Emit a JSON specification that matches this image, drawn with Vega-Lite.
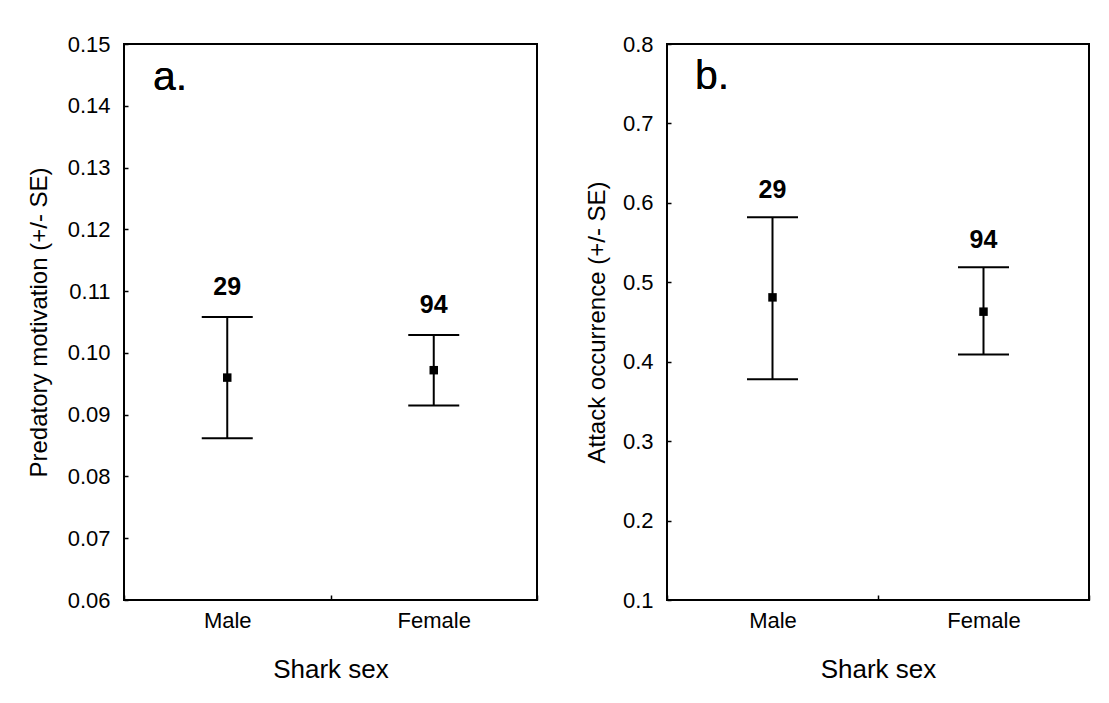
{
  "$schema": "https://vega.github.io/schema/vega-lite/v6.json",
  "background": "white",
  "padding": {"left": 26, "top": 32, "right": 21, "bottom": 10},
  "spacing": 45,
  "config": {
    "font": "Liberation Sans",
    "view": {"stroke": "black", "strokeWidth": 2},
    "axis": {"grid": false, "domain": false, "ticks": true, "tickColor": "black", "tickWidth": 1.5, "labelColor": "black", "titleColor": "black", "labelFont": "Liberation Sans", "titleFont": "Liberation Sans", "labelFontSize": 22, "titleFontSize": 26, "titleFontWeight": "normal"},
    "axisY": {"titleFontSize": 24}
  },
  "hconcat": [
    {
      "width": 413,
      "height": 556,
      "data": {"values": [
        {"sex": "Male", "mean": 0.0960, "lo": 0.0862, "hi": 0.1058, "n": "29"},
        {"sex": "Female", "mean": 0.0972, "lo": 0.0915, "hi": 0.1029, "n": "94"}
      ]},
      "encoding": {
        "x": {"field": "sex", "type": "nominal", "sort": ["Male", "Female"], "scale": {"type": "band", "paddingInner": 0, "paddingOuter": 0},
              "axis": {"title": "Shark sex", "labelAngle": 0, "tickBand": "extent", "tickSize": -5, "labelPadding": 15, "minExtent": 32, "maxExtent": 32, "titlePadding": 24.5}}
      },
      "layer": [
        {"mark": {"type": "rule", "color": "black", "strokeWidth": 2},
         "encoding": {"y": {"field": "lo", "type": "quantitative", "title": "Predatory motivation (+/- SE)", "scale": {"domain": [0.06, 0.15], "nice": false, "zero": false},
                            "axis": {"values": [0.06, 0.07, 0.08, 0.09, 0.1, 0.11, 0.12, 0.13, 0.14, 0.15], "format": ".2f", "tickSize": -4, "labelPadding": 18, "minExtent": 60, "maxExtent": 60, "titlePadding": 13}},
                      "y2": {"field": "hi"}}},
        {"mark": {"type": "tick", "color": "black", "size": 51, "thickness": 2, "opacity": 1},
         "encoding": {"y": {"field": "lo", "type": "quantitative", "title": "Predatory motivation (+/- SE)"}}},
        {"mark": {"type": "tick", "color": "black", "size": 51, "thickness": 2, "opacity": 1},
         "encoding": {"y": {"field": "hi", "type": "quantitative", "title": "Predatory motivation (+/- SE)"}}},
        {"mark": {"type": "square", "color": "black", "filled": true, "size": 72, "opacity": 1},
         "encoding": {"y": {"field": "mean", "type": "quantitative", "title": "Predatory motivation (+/- SE)"}}},
        {"mark": {"type": "text", "color": "black", "fontSize": 25, "fontWeight": "bold", "baseline": "middle", "dy": -30},
         "encoding": {"y": {"field": "hi", "type": "quantitative", "title": "Predatory motivation (+/- SE)"}, "text": {"field": "n"}}},
        {"mark": {"type": "text", "color": "black", "fontSize": 41, "align": "left", "baseline": "alphabetic", "dx": 29, "dy": 46, "text": "a."},
         "encoding": {"x": {"datum": "Male", "type": "nominal", "bandPosition": 0}, "y": {"datum": 0.15, "type": "quantitative", "title": "Predatory motivation (+/- SE)"}}}
      ]
    },
    {
      "width": 422,
      "height": 556,
      "data": {"values": [
        {"sex": "Male", "mean": 0.481, "lo": 0.378, "hi": 0.582, "n": "29"},
        {"sex": "Female", "mean": 0.463, "lo": 0.409, "hi": 0.519, "n": "94"}
      ]},
      "encoding": {
        "x": {"field": "sex", "type": "nominal", "sort": ["Male", "Female"], "scale": {"type": "band", "paddingInner": 0, "paddingOuter": 0},
              "axis": {"title": "Shark sex", "labelAngle": 0, "tickBand": "extent", "tickSize": -5, "labelPadding": 15, "minExtent": 32, "maxExtent": 32, "titlePadding": 24.5}}
      },
      "layer": [
        {"mark": {"type": "rule", "color": "black", "strokeWidth": 2},
         "encoding": {"y": {"field": "lo", "type": "quantitative", "title": "Attack occurrence (+/- SE)", "scale": {"domain": [0.1, 0.8], "nice": false, "zero": false},
                            "axis": {"values": [0.1, 0.2, 0.3, 0.4, 0.5, 0.6, 0.7, 0.8], "format": ".1f", "tickSize": -4, "labelPadding": 18, "minExtent": 46, "maxExtent": 46, "titlePadding": 12}},
                      "y2": {"field": "hi"}}},
        {"mark": {"type": "tick", "color": "black", "size": 51, "thickness": 2, "opacity": 1},
         "encoding": {"y": {"field": "lo", "type": "quantitative", "title": "Attack occurrence (+/- SE)"}}},
        {"mark": {"type": "tick", "color": "black", "size": 51, "thickness": 2, "opacity": 1},
         "encoding": {"y": {"field": "hi", "type": "quantitative", "title": "Attack occurrence (+/- SE)"}}},
        {"mark": {"type": "square", "color": "black", "filled": true, "size": 72, "opacity": 1},
         "encoding": {"y": {"field": "mean", "type": "quantitative", "title": "Attack occurrence (+/- SE)"}}},
        {"mark": {"type": "text", "color": "black", "fontSize": 25, "fontWeight": "bold", "baseline": "middle", "dy": -27},
         "encoding": {"y": {"field": "hi", "type": "quantitative", "title": "Attack occurrence (+/- SE)"}, "text": {"field": "n"}}},
        {"mark": {"type": "text", "color": "black", "fontSize": 41, "align": "left", "baseline": "alphabetic", "dx": 28, "dy": 45, "text": "b."},
         "encoding": {"x": {"datum": "Male", "type": "nominal", "bandPosition": 0}, "y": {"datum": 0.8, "type": "quantitative", "title": "Attack occurrence (+/- SE)"}}}
      ]
    }
  ]
}
